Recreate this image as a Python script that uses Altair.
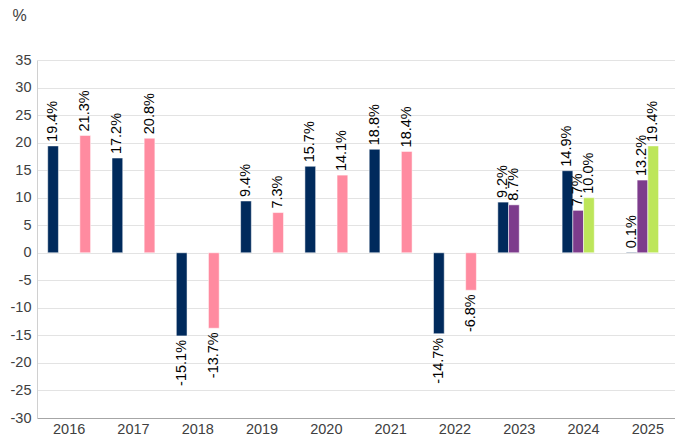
import altair as alt
import pandas as pd

years = ["2016", "2017", "2018", "2019", "2020", "2021", "2022", "2023", "2024", "2025"]
series_order = ["Series 1", "Series 2", "Series 3", "Series 4"]
series_colors = ["#002A5C", "#7D3C8C", "#BDE65A", "#FF8BA0"]

s1_vals = [19.4, 17.2, -15.1, 9.4, 15.7, 18.8, -14.7, 9.2, 14.9, 0.1]
s2_vals = [None, None, None, None, None, None, None, 8.7, 7.7, 13.2]
s3_vals = [None, None, None, None, None, None, None, None, 10.0, 19.4]
s4_vals = [21.3, 20.8, -13.7, 7.3, 14.1, 18.4, -6.8, None, None, None]

y_ticks = list(range(-30, 36, 5))

FONT = "Liberation Sans"

rows = []
for name, vals in zip(series_order, [s1_vals, s2_vals, s3_vals, s4_vals]):
    for yr, v in zip(years, vals):
        if v is None:
            continue
        rows.append({"year": yr, "series": name, "value": v, "label": f"{v:.1f}%"})
df = pd.DataFrame(rows)

x_enc = alt.X(
    "year:N",
    sort=years,
    scale=alt.Scale(domain=years, range=[0, 643], paddingInner=1 / 3, paddingOuter=1 / 6),
    axis=alt.Axis(
        title=None,
        labelAngle=0,
        ticks=False,
        domainColor="#A6A6A6",
        labelFont=FONT,
        labelFontSize=14.5,
        labelColor="#404040",
        labelPadding=4,
    ),
)
xoff_enc = alt.XOffset("series:N", sort=series_order, scale=alt.Scale(domain=series_order))
y_enc = alt.Y(
    "value:Q",
    scale=alt.Scale(domain=[-30, 35], nice=False, zero=False),
    axis=alt.Axis(
        values=y_ticks,
        labelExpr="toString(datum.value)",
        labelOverlap=False,
        title="%",
        titleAngle=0,
        titleX=-25,
        titleY=-40,
        titleAlign="left",
        titleBaseline="alphabetic",
        titleFont=FONT,
        titleFontSize=16,
        titleFontWeight="normal",
        titleColor="#404040",
        ticks=False,
        labelPadding=6,
        labelFont=FONT,
        labelFontSize=14.5,
        labelColor="#404040",
        domainColor="#D0D0D0",
        gridColor="#E3E3E3",
    ),
)

base = alt.Chart(df)

bars = base.mark_bar(stroke="white", strokeWidth=0.5).encode(
    x=x_enc,
    xOffset=xoff_enc,
    y=y_enc,
    color=alt.Color("series:N", scale=alt.Scale(domain=series_order, range=series_colors), legend=None),
)

pos_labels = base.transform_filter(alt.datum.value >= 0).mark_text(
    angle=270, align="left", baseline="middle", dx=4, font=FONT, fontSize=14.5, color="#000000"
).encode(x=x_enc, xOffset=xoff_enc, y=y_enc, text="label:N")

neg_labels = base.transform_filter(alt.datum.value < 0).mark_text(
    angle=270, align="right", baseline="middle", dx=-4, font=FONT, fontSize=14.5, color="#000000"
).encode(x=x_enc, xOffset=xoff_enc, y=y_enc, text="label:N")

chart = (
    alt.layer(bars, pos_labels, neg_labels)
    .properties(
        width=638,
        height=358,
        autosize=alt.AutoSizeParams(type="none"),
        padding={"left": 37, "top": 60, "right": 0, "bottom": 21},
    )
    .configure(font=FONT, view=alt.ViewConfig(stroke=None))
)

chart.save("out.html", embed_options={"renderer": "svg", "actions": False})
